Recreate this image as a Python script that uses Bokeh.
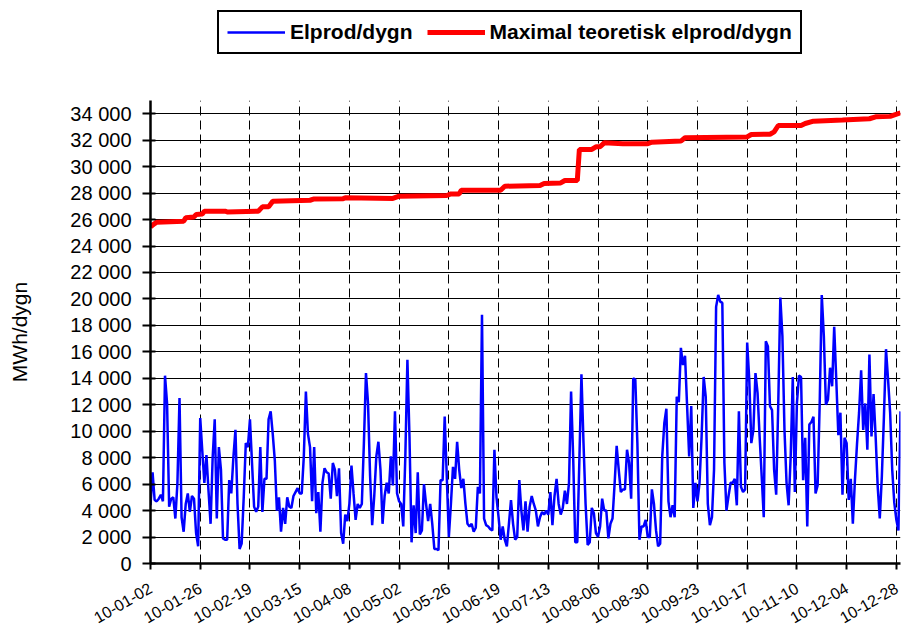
import math
import pandas as pd
from bokeh.plotting import figure
from bokeh.layouts import column
from bokeh.models import (Range1d, FixedTicker, DatetimeTickFormatter, Legend, LegendItem)
from bokeh.embed import file_html
from bokeh.resources import INLINE

# ---------------- data ----------------
start_date = "2010-01-02"

# Elprod/dygn, MWh per day, one value per day from 2010-01-02
elprod = [
    4400, 6900, 4800, 4700, 4900, 5200, 4700, 14200, 12100, 4300,
    4900, 5000, 3400, 6100, 12500, 3500, 2400, 4500, 5300, 3900,
    5100, 4900, 2300, 1300, 11000, 8500, 6100, 8200, 5500, 3000,
    8000, 10900, 3400, 8800, 7100, 1900, 1800, 1800, 6300, 5300,
    8000, 10100, 4500, 1100, 1500, 5000, 9100, 8800, 10900, 7600,
    4300, 3900, 4300, 8800, 3900, 6400, 6400, 10900, 11500, 9800,
    7800, 4000, 5000, 2400, 4200, 3000, 5000, 4300, 4200, 5100,
    5400, 5700, 5300, 5300, 8100, 13000, 9800, 8800, 4700, 8800,
    3800, 5400, 2400, 6100, 7200, 6900, 6800, 4900, 7600, 7100,
    5100, 7200, 2300, 1500, 3700, 3200, 4500, 7400, 5300, 3300,
    4500, 4200, 4500, 9100, 14400, 12100, 6600, 2900, 5100, 8100,
    9200, 7100, 3000, 5100, 6100, 5300, 8100, 5900, 11500, 5300,
    4700, 4500, 2800, 8100, 15400, 9600, 1600, 4400, 2300, 6900,
    2200, 2500, 6000, 4500, 3200, 4500, 3000, 1100, 1100, 1000,
    6300, 6300, 11100, 6600, 2000, 4500, 7300, 6400, 9200, 7100,
    5700, 6400, 4500, 3000, 2800, 3000, 2400, 2700, 5800, 5300,
    18800, 3400, 2900, 2800, 2600, 2500, 8600, 5000, 3500, 1800,
    2800, 1800, 1300, 3000, 4800, 3000, 1800, 2000, 6300, 4000,
    2500, 4700, 2400, 4300, 5100, 4500, 4000, 2800, 3500, 3900,
    3700, 4000, 3700, 5400, 2900, 5100, 6400, 4500, 3700, 4200,
    5500, 4500, 6100, 13000, 8100, 1600, 1600, 7800, 14300, 9100,
    4500, 1400, 1600, 4200, 3800, 2300, 2000, 2800, 4900, 4000,
    4000, 1900, 3000, 3400, 6000, 8900, 7100, 5400, 5600, 5600,
    8600, 7600, 4900, 14000, 13900, 9100, 1800, 2800, 2800, 3300,
    2000, 2000, 5600, 4500, 2500, 1300, 1500, 8100, 10600, 11700,
    4700, 3500, 4400, 3500, 12600, 12200, 16300, 15000, 15700, 11900,
    8100, 11900, 4200, 6100, 4700, 6100, 9600, 14100, 12600, 4500,
    2900, 3500, 7100, 19400, 20300, 19800, 19700, 7600, 4000, 5100,
    6100, 6100, 6400, 4400, 11500, 5800, 5400, 5600, 16700, 13900,
    9100, 10100, 14400, 12900, 9600, 6600, 3500, 16800, 16400, 11900,
    11600, 7100, 5200, 12100, 20100, 17200, 10100, 6100, 4400, 8100,
    14100, 5400, 12100, 14200, 14100, 6300, 9500, 2800, 10500, 10700,
    11100, 5300, 5900, 12100, 20300, 17200, 12000, 12400, 14800, 13400,
    17900, 13900, 9700, 11400, 5200, 9500, 9100, 4800, 6400, 3000,
    6300, 9000, 11400, 14600, 10100, 12100, 8600, 15800, 9600, 12800,
    9600, 5800, 3400, 6600, 11100, 16200, 13900, 11400, 7100, 4600,
    3300, 2500, 11500,
]

# Maximal teoretisk elprod/dygn: corner points (day offset, MWh)
maxteor_day = [0, 2, 3, 16, 17, 21, 22, 25, 26, 36, 37, 52, 54, 57, 59, 77, 79,
               93, 94, 117, 120, 143, 145, 149, 150, 169, 171, 188, 190, 198,
               200, 206, 207, 213, 215, 217, 219, 228, 240, 242, 256, 258, 288,
               290, 299, 301, 303, 314, 316, 320, 334, 347, 350, 357, 362]
maxteor = [25450, 25700, 25800, 25870, 26130, 26200, 26380, 26420, 26630, 26630,
           26580, 26630, 26960, 26960, 27390, 27460, 27560, 27580, 27640, 27600,
           27770, 27820, 27940, 27940, 28220, 28220, 28520, 28570, 28720, 28770,
           28950, 28950, 31300, 31300, 31500, 31500, 31800, 31730, 31730, 31850,
           31930, 32180, 32250, 32430, 32450, 32630, 33110, 33110, 33260, 33440,
           33520, 33620, 33770, 33800, 34070]

x_tick_labels = ["10-01-02", "10-01-26", "10-02-19", "10-03-15", "10-04-08",
                 "10-05-02", "10-05-26", "10-06-19", "10-07-13", "10-08-06",
                 "10-08-30", "10-09-23", "10-10-17", "10-11-10", "10-12-04",
                 "10-12-28"]
y_ticks = list(range(0, 34001, 2000))
y_max = 35000

series_names = ["Elprod/dygn", "Maximal teoretisk elprod/dygn"]
y_title = "MWh/dygn"

# ---------------- build ----------------
FONT = "Liberation Sans"
BLUE = "#0000FF"
RED = "#FF0000"
t0 = pd.Timestamp(start_date)
dates = pd.date_range(t0, periods=len(elprod), freq="D")
red_dates = [t0 + pd.Timedelta(days=d) for d in maxteor_day]

def ms(ts):
    return ts.value / 1e6

tick_ms = [ms(pd.Timestamp("20" + s)) for s in x_tick_labels]

# --- main chart ---
p = figure(width=901, height=567, x_axis_type="datetime",
           output_backend="svg", toolbar_location=None,
           title_location=None,
           x_range=Range1d(ms(dates[0]), ms(dates[-1])),
           y_range=Range1d(0, y_max),
           min_border_left=150, min_border_top=36,
           min_border_right=1, min_border_bottom=68)
p.outline_line_color = None
p.background_fill_color = "white"
p.border_fill_color = "white"

r_blue = p.line(dates, elprod, line_color=BLUE, line_width=2.5)
r_red = p.line(red_dates, maxteor, line_color=RED, line_width=5)

xa = p.xaxis[0]
xa.ticker = FixedTicker(ticks=tick_ms)
fmt = "%y-%m-%d"
xa.formatter = DatetimeTickFormatter(
    microseconds=fmt, milliseconds=fmt, seconds=fmt, minsec=fmt, minutes=fmt,
    hourmin=fmt, hours=fmt, days=fmt, months=fmt, years=fmt)
xa.major_label_orientation = math.pi / 6
xa.major_label_text_font = FONT
xa.major_label_text_font_size = "16px"
xa.major_label_text_color = "black"
xa.major_label_standoff = 17
xa.major_tick_out = 6
xa.major_tick_in = 0
xa.major_tick_line_width = 2
xa.minor_tick_line_color = None
xa.axis_line_width = 2.5
xa.axis_line_color = "black"

ya = p.yaxis[0]
ya.ticker = FixedTicker(ticks=y_ticks)
ya.major_label_overrides = {v: f"{v:,}".replace(",", " ") for v in y_ticks}
ya.major_label_text_font = FONT
ya.major_label_text_font_size = "20px"
ya.major_label_text_color = "black"
ya.major_label_standoff = 11
ya.major_tick_out = 8
ya.major_tick_in = 5
ya.major_tick_line_width = 2
ya.minor_tick_line_color = None
ya.axis_line_width = 2.5
ya.axis_line_color = "black"
ya.axis_label = y_title
ya.axis_label_text_font = FONT
ya.axis_label_text_font_size = "21px"
ya.axis_label_text_font_style = "normal"
ya.axis_label_text_color = "black"
ya.axis_label_standoff = 36

p.xgrid.grid_line_color = "black"
p.xgrid.grid_line_width = 1
p.xgrid.grid_line_dash = "9 5"
p.ygrid.grid_line_color = "black"
p.ygrid.grid_line_width = 1

# --- legend strip above the chart (same series, drawn out of view) ---
top = figure(width=901, height=64, x_axis_type="datetime",
             output_backend="svg", toolbar_location=None,
             title_location=None, x_axis_location=None, y_axis_location=None,
             x_range=Range1d(ms(dates[0]), ms(dates[-1])),
             y_range=Range1d(-2, -1),
             min_border=0, min_border_left=0, min_border_right=0,
             min_border_top=0, min_border_bottom=0)
top.outline_line_color = None
top.background_fill_color = "white"
top.border_fill_color = "white"
for g in top.grid:
    g.visible = False
lb = top.line(dates, elprod, line_color=BLUE, line_width=2.5)
lr = top.line(red_dates, maxteor, line_color=RED, line_width=5)

legend = Legend(items=[LegendItem(label=series_names[0], renderers=[lb]),
                       LegendItem(label=series_names[1], renderers=[lr])],
                orientation="horizontal", location=(67, 10), margin=0,
                padding=8, spacing=14, glyph_width=58, glyph_height=20,
                label_standoff=5, label_text_font=FONT,
                label_text_font_style="bold", label_text_font_size="21px",
                label_text_color="black",
                border_line_color="black", border_line_width=2,
                border_line_alpha=1.0,
                background_fill_color="white", background_fill_alpha=1.0)
top.add_layout(legend)

layout = column(top, p, spacing=0)
open("out.html", "w").write(file_html(layout, INLINE))
